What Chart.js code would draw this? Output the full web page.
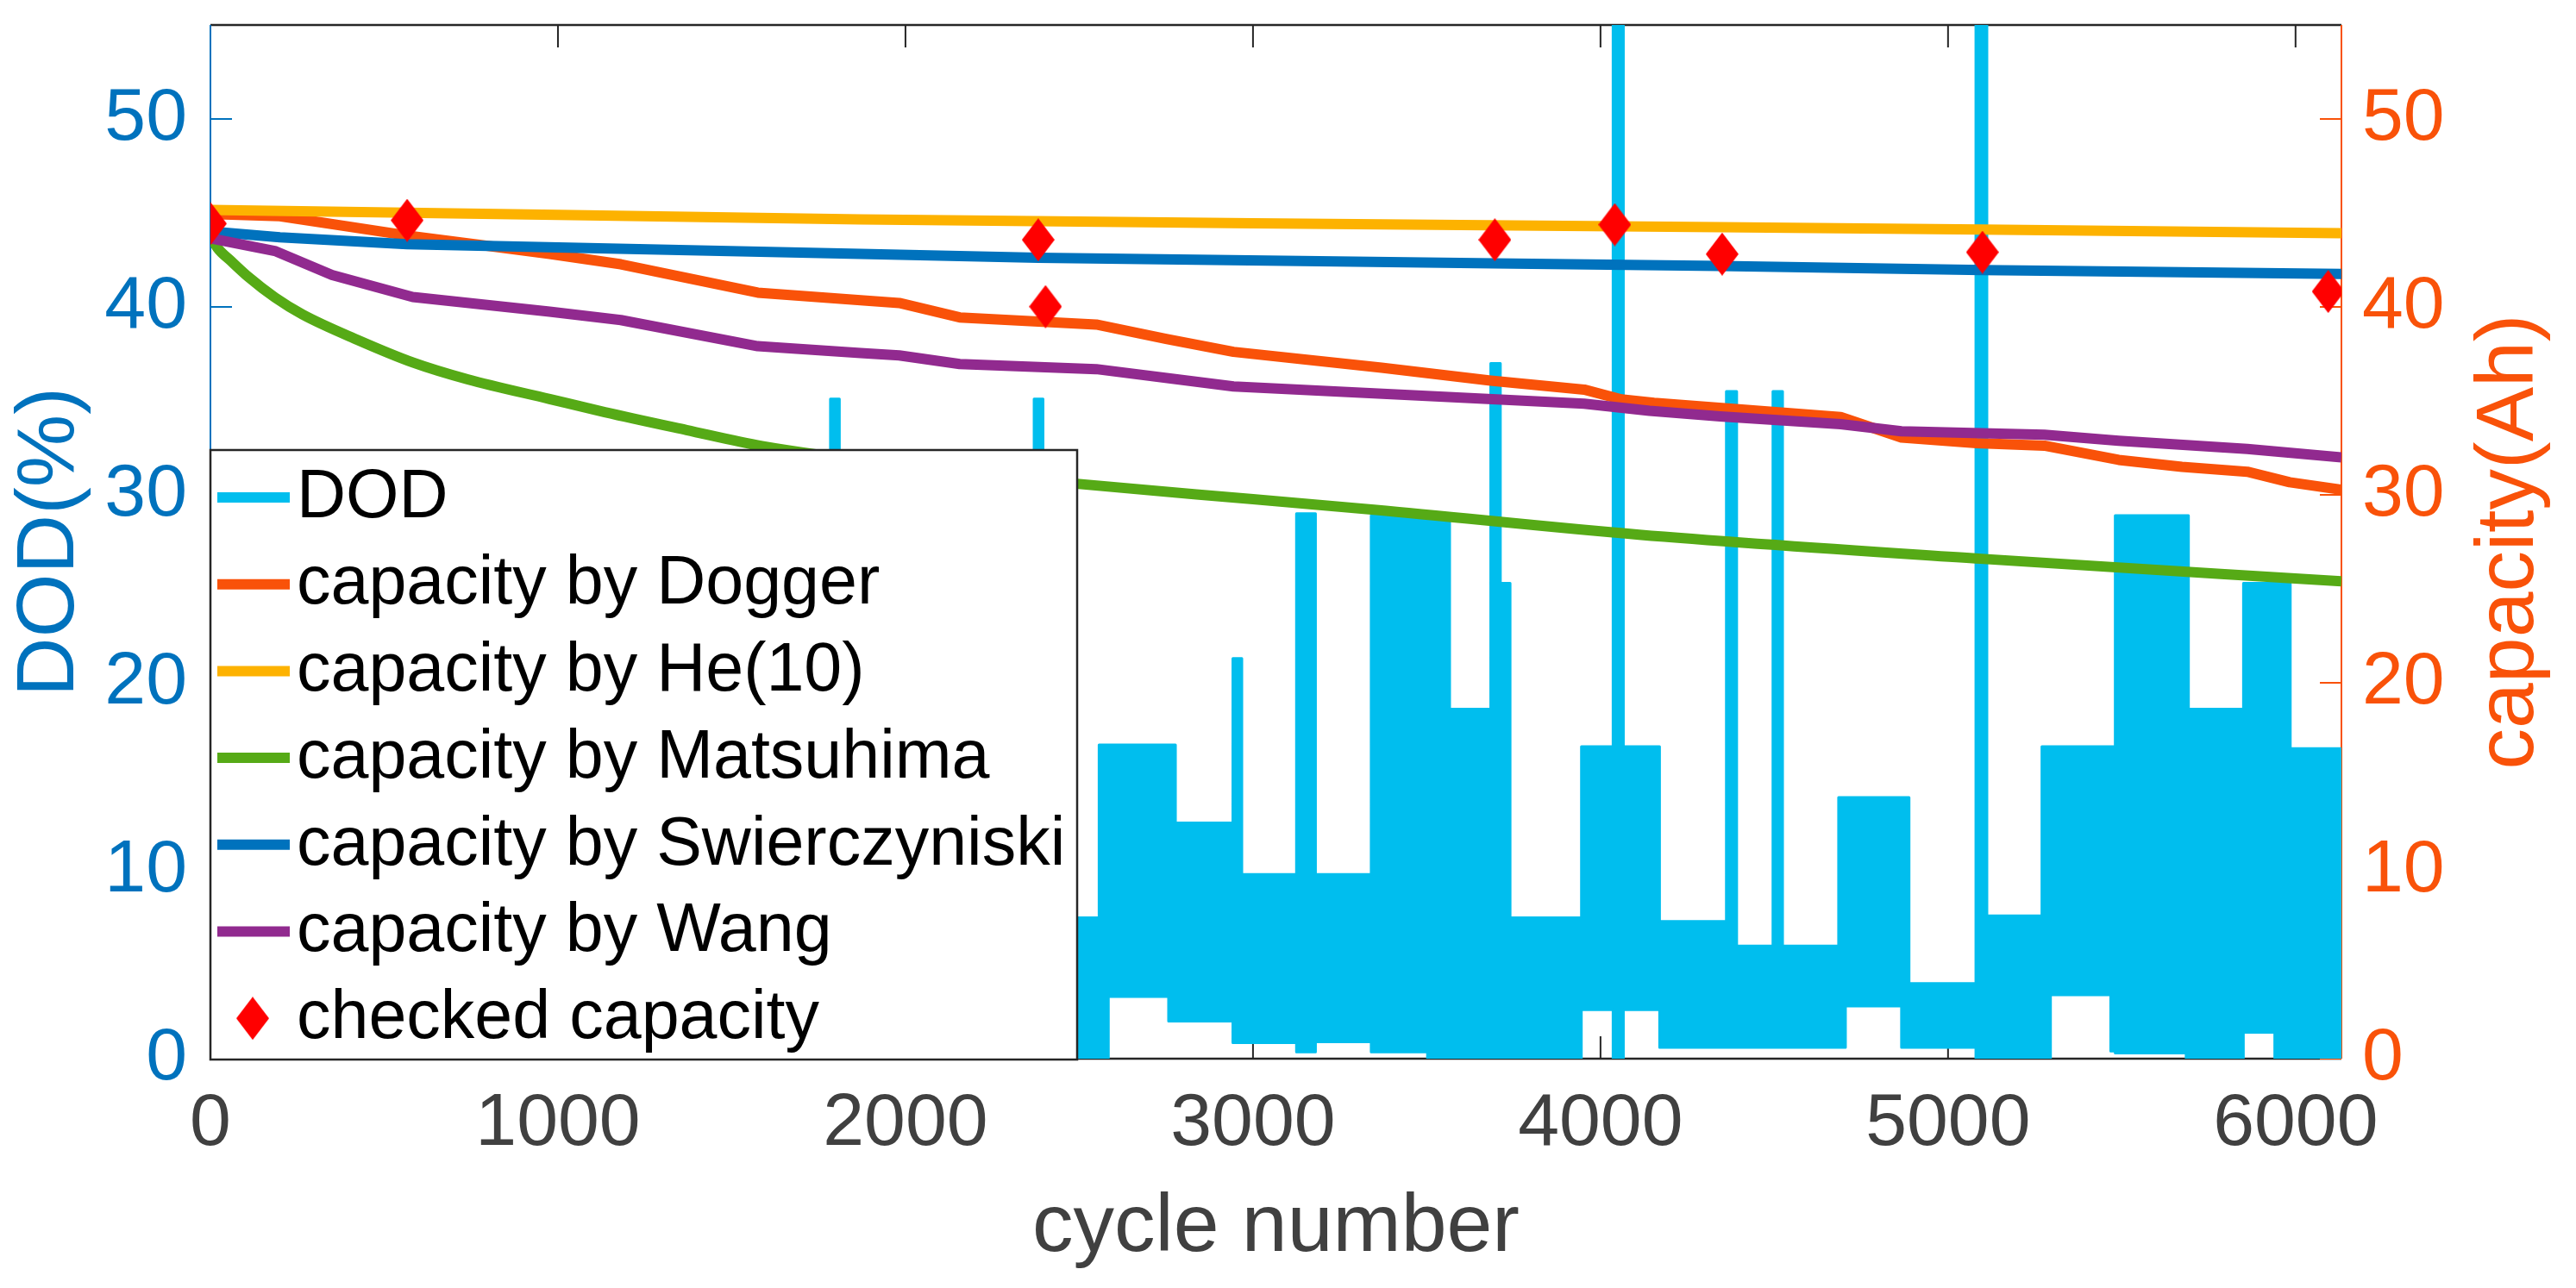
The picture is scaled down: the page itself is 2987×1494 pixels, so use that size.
<!DOCTYPE html>
<html>
<head>
<meta charset="utf-8">
<script src="https://cdn.jsdelivr.net/npm/chart.js@4.4.1/dist/chart.umd.min.js"></script>
<style>
  html, body { margin: 0; padding: 0; background: #fff; }
</style>
</head>
<body>
<canvas id="chart" width="2987" height="1494"></canvas>
<script>
const W = 2987, H = 1494;
const AREA = {left: 244, right: 2715, top: 29, bottom: 1228};

const cycleMax = 6132;
const yMax = 55;
const cycleTicks = [0, 1000, 2000, 3000, 4000, 5000, 6000];
const dodTicks = [0, 10, 20, 30, 40, 50];
const capTicks = [0, 10, 20, 30, 40, 50];

// DOD profile: each block runs from its start cycle to the next start,
// cycling between its low and high value
const dodStart = [0, 420, 780, 1150, 1520, 1784, 1810, 2060, 2370, 2396, 2557, 2584, 2757, 2777, 2942, 2968,
  3125, 3180, 3340, 3502, 3566, 3684, 3712, 3740, 3945, 4036, 4066, 4170, 4362, 4392, 4496, 4524,
  4685, 4705, 4866, 4888, 5080, 5112, 5270, 5295, 5468, 5481, 5685, 5692, 5850, 5940, 5985];
const dodHigh = [10.0, 16.5, 7.5, 13.5, 9.8, 35.1, 9.8, 16.5, 35.1, 7.5, 16.7, 16.7, 16.7, 12.55, 21.3, 9.8,
  29.0, 9.8, 28.9, 28.9, 18.6, 37.0, 25.3, 7.5, 16.6, 60, 16.6, 7.3, 35.5, 6.0, 35.5, 6.0,
  13.9, 13.9, 13.9, 4.0, 60, 7.6, 16.6, 16.6, 16.6, 28.9, 28.9, 18.6, 25.3, 25.3, 16.5];
const dodLow = [1.0, 2.5, 0.5, 2.5, 0.8, 0.0, 0.8, 3.0, 0.0, 0.0, 0.0, 3.3, 2.0, 2.0, 0.85, 0.85,
  0.35, 0.9, 0.35, 0.0, 0.0, 0.0, 0.0, 0.0, 2.6, 0.0, 2.6, 0.6, 0.6, 0.6, 0.6, 0.6,
  0.6, 2.8, 0.6, 0.6, 0.0, 0.0, 0.0, 3.4, 0.4, 0.3, 0.0, 0.0, 1.4, 0.0, 0.0];

// capacity models (Ah)
const doggerX = [0, 200, 566, 976, 1181, 1575, 1871, 1982, 2156, 2549, 2750, 2944, 3370, 3684, 3953, 4060, 4154, 4691, 4866, 5082, 5277, 5491, 5673, 5861, 5983, 6132];
const doggerY = [44.94, 44.83, 43.8, 42.82, 42.27, 40.76, 40.36, 40.21, 39.44, 39.06, 38.3, 37.61, 36.77, 36.08, 35.6, 35.08, 34.9, 34.14, 33.05, 32.75, 32.62, 31.86, 31.49, 31.23, 30.67, 30.27];

const heX = [0, 1000, 1871, 3000, 4344, 5099, 6132];
const heY = [45.16, 44.9, 44.66, 44.45, 44.24, 44.12, 43.92];

const matsuX = [0, 20, 59, 109, 186, 265, 423, 582, 740, 976, 1135, 1370, 1587, 2000, 2493, 3000, 3355, 4111, 5094, 6132];
const matsuY = [43.8, 43.15, 42.45, 41.6, 40.5, 39.6, 38.25, 37.05, 36.15, 35.1, 34.4, 33.45, 32.6, 31.55, 30.59, 29.77, 29.2, 27.88, 26.6, 25.4];

const swierX = [0, 200, 566, 1871, 2382, 3696, 4344, 5099, 6132];
const swierY = [44.01, 43.7, 43.34, 42.82, 42.62, 42.32, 42.18, 41.96, 41.76];

const wangX = [0, 188, 350, 582, 976, 1181, 1575, 1871, 1982, 2156, 2549, 2944, 3449, 3953, 4141, 4344, 4691, 4866, 5277, 5491, 5861, 6132];
const wangY = [43.65, 42.96, 41.7, 40.53, 39.75, 39.3, 37.91, 37.55, 37.42, 36.96, 36.69, 35.77, 35.31, 34.85, 34.47, 34.17, 33.76, 33.38, 33.2, 32.88, 32.44, 31.99];

const checkedX = [0, 566, 2382, 2403, 3696, 4041, 4350, 5099, 6094];
const checkedY = [44.43, 44.61, 43.57, 40.02, 43.57, 44.38, 42.81, 42.91, 40.82];

const BLUE = '#0072BD';
const ORANGE = '#F95209';
const DOD_COLOR = '#00BEEE';

function xy(xs, ys) {
  return xs.map((x, i) => ({x, y: ys[i]}));
}

// outline of the DOD band: block tops left to right, block bottoms back again
function dodOutline(starts, high, low, end) {
  const bounds = starts.concat([end]);
  const pts = [];
  high.forEach((h, i) => { pts.push({x: bounds[i], y: h}, {x: bounds[i + 1], y: h}); });
  for (let i = low.length - 1; i >= 0; i--) {
    pts.push({x: bounds[i + 1], y: low[i]}, {x: bounds[i], y: low[i]});
  }
  return pts;
}

const diamond = document.createElement('canvas');
diamond.width = 38;
diamond.height = 50;
{
  const c = diamond.getContext('2d');
  c.fillStyle = '#FF0000';
  c.beginPath();
  c.moveTo(19, 0); c.lineTo(38, 25); c.lineTo(19, 50); c.lineTo(0, 25);
  c.closePath();
  c.fill();
}

function capLine(label, color, xs, ys, order, smooth) {
  return {
    label, data: xy(xs, ys), yAxisID: 'y2', order,
    borderColor: color, backgroundColor: color, borderWidth: 12,
    borderJoinStyle: 'round', pointRadius: 0, fill: false,
    tension: 0, cubicInterpolationMode: smooth ? 'monotone' : 'default'
  };
}

const datasets = [
  {
    label: 'DOD', data: dodOutline(dodStart, dodHigh, dodLow, cycleMax), yAxisID: 'y', order: 6,
    borderColor: DOD_COLOR, backgroundColor: DOD_COLOR, borderWidth: 3, borderJoinStyle: 'round',
    pointRadius: 0, tension: 0, fill: 'shape'
  },
  capLine('capacity by Dogger', ORANGE, doggerX, doggerY, 5),
  capLine('capacity by He(10)', '#FDB200', heX, heY, 4),
  capLine('capacity by Matsuhima', '#56AA16', matsuX, matsuY, 3, true),
  capLine('capacity by Swierczyniski', BLUE, swierX, swierY, 2),
  capLine('capacity by Wang', '#912A8F', wangX, wangY, 1),
  {
    label: 'checked capacity', marker: true, data: xy(checkedX, checkedY), yAxisID: 'y2', order: 0,
    showLine: false, pointStyle: diamond, pointRadius: 20, backgroundColor: '#FF0000', borderWidth: 0
  }
];

// box and inward ticks
const frame = {
  id: 'frame',
  beforeDatasetsDraw(chart) {
    const {ctx, chartArea: a, scales} = chart;
    ctx.save();
    ctx.strokeStyle = '#262626';
    ctx.lineWidth = 2;
    scales.x.ticks.forEach(t => {
      const px = scales.x.getPixelForValue(t.value);
      ctx.beginPath();
      ctx.moveTo(px, a.bottom); ctx.lineTo(px, a.bottom - 26);
      ctx.moveTo(px, a.top); ctx.lineTo(px, a.top + 26);
      ctx.stroke();
    });
    ctx.lineWidth = 2.5;
    ctx.beginPath();
    ctx.moveTo(a.left, a.top); ctx.lineTo(a.right, a.top);
    ctx.moveTo(a.left, a.bottom); ctx.lineTo(a.right, a.bottom);
    ctx.stroke();

    [['y', BLUE, a.left, 1], ['y2', ORANGE, a.right, -1]].forEach(([id, color, x0, dir]) => {
      const s = scales[id];
      ctx.strokeStyle = color;
      ctx.lineWidth = 2;
      ctx.beginPath();
      ctx.moveTo(x0, a.top); ctx.lineTo(x0, a.bottom);
      s.ticks.forEach(t => {
        const py = s.getPixelForValue(t.value);
        ctx.moveTo(x0, py); ctx.lineTo(x0 + dir * 25, py);
      });
      ctx.stroke();
    });
    ctx.restore();
  }
};

const legendBox = {
  id: 'legendBox',
  afterDraw(chart) {
    const {ctx} = chart;
    const box = {x: 244, y: 522, w: 1005, h: 707};
    ctx.save();
    ctx.fillStyle = '#FFFFFF';
    ctx.fillRect(box.x, box.y, box.w, box.h);
    ctx.strokeStyle = '#262626';
    ctx.lineWidth = 2.5;
    ctx.strokeRect(box.x, box.y, box.w, box.h);

    ctx.font = '79px "Liberation Sans", Arial, sans-serif';
    ctx.textBaseline = 'middle';
    ctx.textAlign = 'left';
    chart.data.datasets.forEach((d, i) => {
      const cy = 577 + i * 100.7;
      if (d.marker) {
        ctx.drawImage(diamond, 293 - diamond.width / 2, cy - diamond.height / 2);
      } else {
        ctx.strokeStyle = d.borderColor;
        ctx.lineWidth = 12;
        ctx.beginPath();
        ctx.moveTo(252, cy); ctx.lineTo(336, cy);
        ctx.stroke();
      }
      ctx.fillStyle = '#000000';
      ctx.fillText(d.label, 344, cy + 1);
    });

    // right axis title, read bottom to top like the left one
    ctx.translate(2911, (AREA.top + AREA.bottom) / 2);
    ctx.rotate(-Math.PI / 2);
    ctx.font = '95px "Liberation Sans", Arial, sans-serif';
    ctx.textAlign = 'center';
    ctx.fillStyle = ORANGE;
    ctx.fillText('capacity(Ah)', 0, 0);
    ctx.restore();
  }
};

function noPadding(s) {
  s.paddingLeft = 0; s.paddingRight = 0; s.paddingTop = 0; s.paddingBottom = 0;
}
function fixedTicks(values) {
  return s => { s.ticks = values.map(value => ({value})); };
}

Chart.defaults.font.family = '"Liberation Sans", Arial, Helvetica, sans-serif';

new Chart(document.getElementById('chart'), {
  type: 'line',
  data: {datasets},
  plugins: [frame, legendBox],
  options: {
    responsive: false,
    devicePixelRatio: 1,
    animation: false,
    layout: {padding: {top: AREA.top, left: 0, right: 0, bottom: 0}},
    plugins: {legend: {display: false}, tooltip: {enabled: false}},
    scales: {
      x: {
        type: 'linear', min: 0, max: cycleMax,
        grid: {display: false, drawTicks: false}, border: {display: false},
        afterBuildTicks: fixedTicks(cycleTicks),
        ticks: {autoSkip: false, maxRotation: 0, padding: 25,
          color: '#404040', font: {size: 86}, callback: v => String(v)},
        title: {display: true, text: 'cycle number', color: '#404040', font: {size: 95}, padding: {top: 0, bottom: 12}},
        afterFit(s) { s.height = H - AREA.bottom; noPadding(s); }
      },
      y: {
        type: 'linear', position: 'left', min: 0, max: yMax,
        grid: {display: false, drawTicks: false}, border: {display: false},
        afterBuildTicks: fixedTicks(dodTicks),
        ticks: {autoSkip: false, padding: 27, color: BLUE, font: {size: 86}},
        title: {display: true, text: 'DOD(%)', color: BLUE, font: {size: 95}, padding: {top: 2, bottom: 0}},
        afterFit(s) { s.width = AREA.left; noPadding(s); }
      },
      y2: {
        type: 'linear', position: 'right', min: 0, max: yMax,
        grid: {display: false, drawTicks: false}, border: {display: false},
        afterBuildTicks: fixedTicks(capTicks),
        ticks: {autoSkip: false, padding: 24, color: ORANGE, font: {size: 86}},
        afterFit(s) { s.width = W - AREA.right; noPadding(s); }
      }
    }
  }
});
</script>
</body>
</html>
